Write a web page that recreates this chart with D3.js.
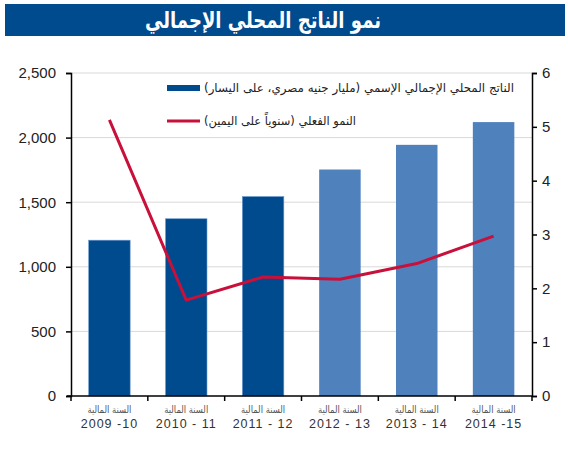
<!DOCTYPE html>
<html>
<head>
<meta charset="utf-8">
<script src="https://cdn.jsdelivr.net/npm/d3@7"></script>
<style>
  body { margin: 0; background: #fff; }
  svg { display: block; font-family: "Liberation Sans", "DejaVu Sans", sans-serif; }
</style>
</head>
<body>
<div id="chart"></div>
<script>
// data
const years = ["2009 -10", "2010 - 11", "2011 - 12", "2012 - 13", "2013 - 14", "2014 -15"];
const nominalGdp = [1206, 1372, 1544, 1753, 1944, 2120];
const realGrowth = [5.13, 1.78, 2.21, 2.17, 2.46, 2.97];
const forecast = [false, false, false, true, true, true];
const leftTicks = [0, 500, 1000, 1500, 2000, 2500];
const rightTicks = [0, 1, 2, 3, 4, 5, 6];

const width = 568, height = 450;
const margin = { top: 73, right: 36, bottom: 54, left: 71 };

const svg = d3.select("#chart")
    .append("svg")
    .attr("width", width)
    .attr("height", height);

// title bar
svg.append("rect")
    .attr("x", 5).attr("y", 4)
    .attr("width", 560).attr("height", 32)
    .attr("fill", "#004b8d");

svg.append("text")
    .attr("x", 263).attr("y", 28)
    .attr("text-anchor", "middle")
    .attr("fill", "#fff")
    .attr("textLength", 236)
    .attr("lengthAdjust", "spacingAndGlyphs")
    .style("font-family", "'DejaVu Sans', sans-serif")
    .style("font-weight", "bold")
    .style("font-size", "23px")
    .text("نمو الناتج المحلي الإجمالي");

const x = d3.scaleBand()
    .domain(years)
    .range([margin.left, width - margin.right])
    .paddingInner(0.46)
    .paddingOuter(0.23);

const xEdge = d3.scaleLinear()
    .domain([0, years.length])
    .range([margin.left, width - margin.right]);

const yL = d3.scaleLinear()
    .domain([0, 2500])
    .range([height - margin.bottom, margin.top]);

const yR = d3.scaleLinear()
    .domain([0, 6])
    .range([height - margin.bottom, margin.top]);

// gridlines
svg.append("g")
    .selectAll("line")
    .data(leftTicks.slice(1))
    .join("line")
    .attr("x1", margin.left).attr("x2", width - margin.right)
    .attr("y1", d => yL(d)).attr("y2", d => yL(d))
    .attr("stroke", "#d9d9d9")
    .attr("stroke-width", 1);

// bars
svg.append("g")
    .selectAll("rect")
    .data(nominalGdp)
    .join("rect")
    .attr("x", (d, i) => x(years[i]))
    .attr("y", d => yL(d))
    .attr("width", x.bandwidth())
    .attr("height", d => yL(0) - yL(d))
    .attr("fill", (d, i) => forecast[i] ? "#4f81bd" : "#004b8d")
    .attr("stroke", (d, i) => forecast[i] ? "none" : "#6f9bd1")
    .attr("stroke-width", 0.6);

// line
const line = d3.line()
    .x((d, i) => x(years[i]) + x.bandwidth() / 2)
    .y(d => yR(d));

svg.append("path")
    .datum(realGrowth)
    .attr("d", line)
    .attr("fill", "none")
    .attr("stroke", "#c8103a")
    .attr("stroke-width", 3)
    .attr("stroke-linejoin", "round");

// axes
const leftAxis = svg.append("g")
    .attr("transform", `translate(${margin.left},0)`)
    .call(d3.axisLeft(yL).tickValues(leftTicks).tickSize(5).tickPadding(10).tickFormat(d3.format(",")));

const rightAxis = svg.append("g")
    .attr("transform", `translate(${width - margin.right},0)`)
    .call(d3.axisRight(yR).tickValues(rightTicks).tickSize(5).tickPadding(5).tickFormat(d3.format("d")));

[leftAxis, rightAxis].forEach(a => {
    a.select(".domain").attr("stroke", "#000").attr("stroke-width", 1.5);
    a.selectAll(".tick line").attr("stroke", "#000").attr("stroke-width", 1.5);
    a.selectAll(".tick text")
        .attr("fill", "#222")
        .style("font-size", "15px")
        .style("font-family", "'Liberation Sans', sans-serif");
});

// bottom axis
const bottom = svg.append("g");
bottom.append("line")
    .attr("x1", margin.left - 4).attr("x2", width - margin.right)
    .attr("y1", yL(0)).attr("y2", yL(0))
    .attr("stroke", "#000").attr("stroke-width", 1.5);

bottom.selectAll(".xtick")
    .data(d3.range(years.length + 1))
    .join("line")
    .attr("class", "xtick")
    .attr("x1", d => xEdge(d)).attr("x2", d => xEdge(d))
    .attr("y1", yL(0)).attr("y2", yL(0) + 5)
    .attr("stroke", "#000").attr("stroke-width", 1.5);

const cats = bottom.selectAll(".cat")
    .data(years)
    .join("g")
    .attr("class", "cat")
    .attr("transform", d => `translate(${x(d) + x.bandwidth() / 2},0)`);

cats.append("text")
    .attr("y", 413)
    .attr("text-anchor", "middle")
    .attr("fill", "#555")
    .attr("textLength", 44)
    .attr("lengthAdjust", "spacingAndGlyphs")
    .style("font-family", "'DejaVu Sans', sans-serif")
    .style("font-size", "10px")
    .text("السنة المالية");

cats.append("text")
    .attr("y", 428)
    .attr("text-anchor", "middle")
    .attr("fill", "#333")
    .style("font-size", "12.5px")
    .style("letter-spacing", "1px")
    .text(d => d);

// legend
const legend = svg.append("g");
const legendItems = [
    { label: "الناتج المحلي الإجمالي الإسمي (مليار جنيه مصري، على اليسار)", type: "bar", y: 88, len: 310 },
    { label: "النمو الفعلي (سنوياً على اليمين)", type: "line", y: 121, len: 152 }
];

legendItems.forEach(item => {
    if (item.type === "bar") {
        legend.append("rect")
            .attr("x", 167).attr("y", item.y - 3)
            .attr("width", 33).attr("height", 6)
            .attr("fill", "#004b8d");
    } else {
        legend.append("line")
            .attr("x1", 167).attr("x2", 200)
            .attr("y1", item.y).attr("y2", item.y)
            .attr("stroke", "#c8103a").attr("stroke-width", 3);
    }
    legend.append("text")
        .attr("x", 204)
        .attr("y", item.y + 4)
        .attr("direction", "rtl")
        .attr("text-anchor", "end")
        .attr("fill", "#222")
        .attr("textLength", item.len)
        .attr("lengthAdjust", "spacingAndGlyphs")
        .style("font-family", "'DejaVu Sans', sans-serif")
        .style("font-size", "12px")
        .text(item.label);
});
</script>
</body>
</html>
